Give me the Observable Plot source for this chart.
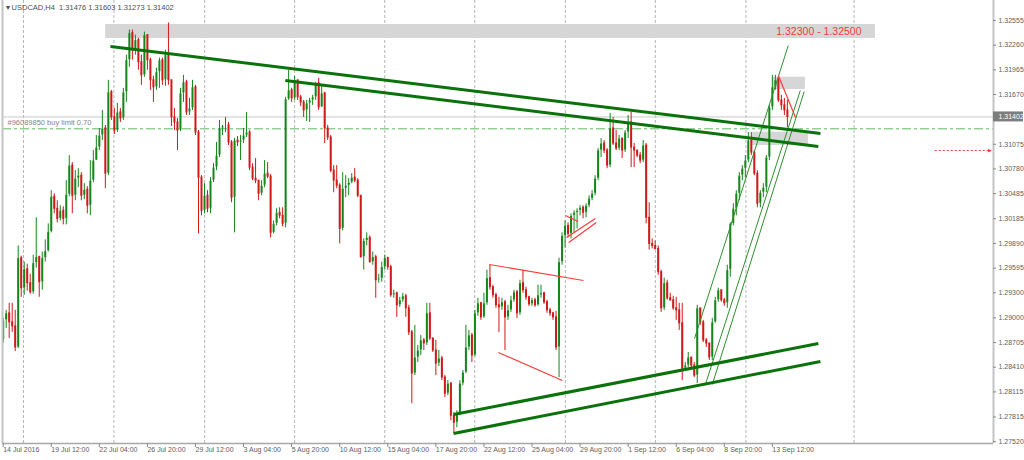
<!DOCTYPE html>
<html><head><meta charset="utf-8">
<script src="https://cdn.jsdelivr.net/npm/d3@7"></script>
<script src="https://cdn.jsdelivr.net/npm/@observablehq/plot@0.6"></script>
<style>
html,body{margin:0;padding:0;background:#fff;}
#chart{width:1024px;height:460px;}
</style></head><body><div id="chart"></div>
<script>
// ---------- DATA (USDCAD H4) ----------
const firstOpen = 1.28730;
const close = [
1.28970,1.29054,1.28946,1.28898,1.28646,1.29714,1.29354,1.29582,1.29414,1.29306,
1.29654,1.29726,1.29426,1.29714,1.29798,1.30028,1.30448,1.30304,1.30184,1.30280,
1.30184,1.30472,1.30820,1.30460,1.30664,1.30700,1.30460,1.30532,1.30340,1.30640,
1.30880,
1.31036,1.31180,1.31264,1.30724,1.31696,1.31396,1.31240,1.31456,1.31384,1.31696,
1.32080,1.32404,1.32200,1.32320,1.32056,1.31900,1.32380,1.32080,1.31840,1.31756,
1.31936,1.32080,1.31840,1.32140,1.31840,1.31396,1.31336,1.31240,1.31684,1.31816,
1.31456,1.31504,1.31756,1.31216,1.30676,
1.30280,1.30460,1.30304,1.30640,1.30796,1.30940,1.31264,1.31288,1.31300,1.31096,
1.30436,1.31120,1.31096,1.31120,1.31180,1.31216,1.30796,1.30664,1.30640,1.30484,
1.30580,1.30724,1.30688,1.30016,1.30124,1.30256,1.30220,1.30124,1.31612,1.31720,
1.31624,1.31840,1.31636,1.31576,1.31480,1.31564,1.31600,1.31636,1.31804,1.31516,
1.31684,1.31264,1.31156,1.30760,1.30640,1.30580,1.30064,1.30544,1.30580,1.30616,
1.30676,1.30640,1.30460,1.29726,1.29920,1.29956,1.29666,1.29726,1.29450,1.29468,
1.29606,1.29714,1.29606,1.29270,1.29294,1.29150,1.29210,
1.29258,1.29114,1.28826,1.28334,1.28526,1.28610,1.28730,1.28694,1.29054,1.28754,
1.28610,1.28454,1.28514,1.28286,1.28094,1.28214,1.27830,1.27746,1.27854,1.28214,
1.28346,1.28646,1.28790,1.28550,1.29054,1.29174,1.29006,1.29174,1.29474,1.29366,
1.29270,1.29150,1.29126,1.29186,1.29006,1.29090,1.29210,1.29306,1.29054,1.29414,
1.29330,1.29246,1.29162,1.29210,1.29150,1.29270,1.29294,1.29186,1.29090,1.29054,
1.29006,1.28646,1.29666,1.29980,1.30100,1.30004,1.30220,1.30256,1.30280,1.30316,
1.30256,1.30340,1.30424,1.30484,1.30664,1.31000,
1.31084,1.31000,1.30820,1.31264,1.31084,1.31024,1.31144,1.31000,1.31216,1.31336,
1.31036,1.31000,1.30940,1.30880,1.31060,1.30196,1.29884,1.29860,1.29824,1.29546,
1.29114,1.29414,1.29234,1.29210,1.29114,1.29090,1.28934,1.28394,1.28430,1.28526,
1.28430,1.28310,1.29114,1.28946,1.28730,1.28694,1.28526,1.28946,1.29210,1.29330,
1.29210,1.29174,1.29570,1.30124,1.30304,1.30484,1.30700,1.30784,1.30880,1.31120,
1.30976,1.30724,1.30364,1.30496,1.30556,1.30916,1.31516,1.31756,1.31840,1.31600,
1.31540,1.31480,1.31402];
const high = [
1.28994,1.29090,1.29174,1.29174,1.29090,1.29860,1.29738,1.29666,1.29642,1.29522,
1.29750,1.30196,1.29738,1.29786,1.29932,1.30124,1.30520,1.30484,1.30400,1.30340,
1.30328,1.30640,1.30940,1.30856,1.30760,1.30784,1.30736,1.30604,1.30568,1.30880,
1.31000,
1.31180,1.31264,1.31480,1.31300,1.31840,1.31720,1.31504,1.31564,1.31504,1.31744,
1.32140,1.32440,1.32440,1.32380,1.32344,1.32140,1.32416,1.32380,1.32104,1.31888,
1.31984,1.32104,1.32104,1.32200,1.32524,1.31840,1.31504,1.31384,1.31744,1.31900,
1.31840,1.31624,1.31840,1.31780,1.31240,
1.30700,1.30604,1.30520,1.30676,1.30844,1.31096,1.31360,1.31300,1.31396,1.31336,
1.31120,1.31144,1.31168,1.31180,1.31264,1.31456,1.31240,1.30844,1.30904,1.30640,
1.30640,1.30880,1.30856,1.30712,1.30160,1.30304,1.30316,1.30316,1.31636,1.31960,
1.31744,1.31888,1.31840,1.31660,1.31600,1.31600,1.31624,1.31660,1.31816,1.31864,
1.31780,1.31696,1.31300,1.31180,1.30820,1.30820,1.30604,1.30736,1.30700,1.30664,
1.30724,1.30784,1.30664,1.30460,1.29944,1.30016,1.29980,1.29786,1.29750,1.29522,
1.29666,1.29750,1.29726,1.29630,1.29330,1.29306,1.29246,
1.29294,1.29282,1.29150,1.28850,1.28910,1.28670,1.28790,1.28754,1.29174,1.29174,
1.28754,1.28730,1.28610,1.28538,1.28310,1.28250,1.28226,1.27866,1.27890,1.28250,
1.28370,1.28910,1.28850,1.28814,1.29090,1.29234,1.29186,1.29294,1.29570,1.29630,
1.29390,1.29294,1.29246,1.29234,1.29210,1.29150,1.29258,1.29330,1.29330,1.29450,
1.29570,1.29366,1.29258,1.29234,1.29234,1.29390,1.29390,1.29306,1.29210,1.29114,
1.29066,1.29078,1.29714,1.30016,1.30160,1.30136,1.30244,1.30280,1.30304,1.30340,
1.30340,1.30364,1.30460,1.30520,1.30700,1.31024,
1.31144,1.31120,1.31024,1.31444,1.31396,1.31240,1.31180,1.31144,1.31240,1.31420,
1.31456,1.31084,1.31000,1.30976,1.31120,1.31084,1.30376,1.29944,1.29920,1.29860,
1.29570,1.29474,1.29450,1.29294,1.29258,1.29246,1.29174,1.29174,1.28466,1.28586,
1.28526,1.28466,1.29150,1.29114,1.28970,1.28754,1.28694,1.28994,1.29246,1.29354,
1.29330,1.29234,1.29630,1.30136,1.30364,1.30520,1.30736,1.30820,1.30940,1.31216,
1.31216,1.31000,1.30760,1.30520,1.30604,1.30940,1.31540,1.31900,1.31900,1.31864,
1.31660,1.31624,1.31603];
const low = [
1.28694,1.28874,1.28754,1.28826,1.28598,1.28634,1.29246,1.29270,1.29318,1.29282,
1.29282,1.29594,1.29246,1.29330,1.29666,1.29786,1.30016,1.30244,1.30136,1.30160,
1.30112,1.30112,1.30448,1.30244,1.30400,1.30556,1.30400,1.30412,1.30244,1.30220,
1.30616,
1.30880,1.31000,1.31120,1.30544,1.30700,1.31360,1.31192,1.31216,1.31336,1.31360,
1.31576,1.31996,1.32080,1.32140,1.31960,1.31780,1.31876,1.31960,1.31720,1.31576,
1.31720,1.31744,1.31780,1.31768,1.31780,1.31288,1.31240,1.31000,1.31228,1.31576,
1.31420,1.31420,1.31480,1.31180,1.30004,
1.30220,1.30244,1.30256,1.30244,1.30616,1.30760,1.30916,1.31180,1.31216,1.31060,
1.30376,1.30016,1.31048,1.30880,1.31084,1.31156,1.30760,1.30640,1.30604,1.30400,
1.30460,1.30556,1.30664,1.29956,1.30004,1.30100,1.30184,1.30088,1.30076,1.31600,
1.31576,1.31600,1.31600,1.31528,1.31396,1.31348,1.31336,1.31540,1.31600,1.31480,
1.31516,1.31084,1.31120,1.30736,1.30496,1.30544,1.29884,1.30040,1.30436,1.30460,
1.30604,1.30616,1.30436,1.29714,1.29570,1.29860,1.29654,1.29630,1.29234,1.29414,
1.29426,1.29570,1.29570,1.29246,1.29234,1.29006,1.29126,
1.29186,1.29006,1.28790,1.27974,1.28310,1.28466,1.28550,1.28610,1.28670,1.28730,
1.28586,1.28310,1.28418,1.28250,1.28046,1.28070,1.27770,1.27614,1.27686,1.27830,
1.28190,1.28334,1.28610,1.28466,1.28538,1.29018,1.28970,1.28994,1.29150,1.29330,
1.29234,1.29114,1.28826,1.29090,1.28610,1.28970,1.29066,1.29186,1.28994,1.29030,
1.29294,1.29210,1.29138,1.29138,1.29126,1.29138,1.29234,1.29162,1.29054,1.29018,
1.28970,1.28610,1.28286,1.29630,1.29836,1.29956,1.29944,1.30016,1.30064,1.30220,
1.30184,1.30196,1.30316,1.30400,1.30460,1.30640,
1.30916,1.30964,1.30784,1.30796,1.31060,1.31000,1.31000,1.30904,1.30976,1.31144,
1.30796,1.30796,1.30916,1.30844,1.30856,1.30124,1.29810,1.29824,1.29810,1.29510,
1.29066,1.29090,1.29210,1.29198,1.29090,1.28970,1.28850,1.28250,1.28370,1.28406,
1.28394,1.28286,1.28214,1.28910,1.28706,1.28646,1.28490,1.28490,1.28934,1.29186,
1.29186,1.29138,1.29114,1.29486,1.30100,1.30220,1.30400,1.30640,1.30676,1.30856,
1.30940,1.30700,1.30316,1.30316,1.30436,1.30496,1.30880,1.31480,1.31720,1.31576,
1.31480,1.31420,1.31273];

// axis ticks
const xTickBars = [0,16,32,48,64,80,96,112,128,144,160,176,192,208,224,240,256];
const xTickLabels = ["14 Jul 2016","19 Jul 12:00","22 Jul 04:00","26 Jul 20:00","29 Jul 12:00",
  "3 Aug 04:00","5 Aug 20:00","10 Aug 12:00","15 Aug 04:00","17 Aug 20:00","22 Aug 12:00",
  "25 Aug 04:00","29 Aug 20:00","1 Sep 12:00","6 Sep 04:00","8 Sep 20:00","13 Sep 12:00"];
const yTicks = [1.27520,1.27815,1.28115,1.28410,1.28705,1.29000,1.29300,1.29595,1.29890,
  1.30185,1.30485,1.30780,1.31075,1.31670,1.31965,1.32260,1.32555];
const gridBars = [6.75,36.85,67.05,97.0,127.0,156.95,187.1,217.05,247.2,283.2];

// header / levels
const symbolTitle = "USDCAD,H4";
const lastBar = {open:1.31476, high:1.31603, low:1.31273, close:1.31402};
const orderLevel = {price:1.31260, label:"#96089850 buy limit 0.70"};
const pendingArrow = [{b1:310.2, b2:328.6, p:1.31001}];

// drawn objects (bar index, price)
const zones = [
  {b1:34.1, b2:290.3, p1:1.32340, p2:1.32507},
  {b1:256.0, b2:267.0, p1:1.31730, p2:1.31877},
  {b1:249.4, b2:268.0, p1:1.31060, p2:1.31220}];
const zoneLabel = [{b:257.3, p:1.32423, text:"1.32300 - 1.32500"}];
const thickLines = [
  {b1:35.7, p1:1.32244, b2:272.0, p2:1.31204},
  {b1:93.9, p1:1.31838, b2:271.3, p2:1.31049},
  {b1:149.9, p1:1.27845, b2:271.3, p2:1.28693},
  {b1:149.9, p1:1.27618, b2:272.0, p2:1.28478}];
const thinGreenLines = [
  {b1:230.1, p1:1.28753, b2:261.3, p2:1.32256},
  {b1:233.7, p1:1.28203, b2:265.3, p2:1.31718},
  {b1:236.0, p1:1.28203, b2:266.6, p2:1.31706}];
const redLines = [
  {b1:161.8, p1:1.29638, b2:193.1, p2:1.29447},
  {b1:164.8, p1:1.28586, b2:186.1, p2:1.28251},
  {b1:187.5, p1:1.29961, b2:197.1, p2:1.30188},
  {b1:188.2, p1:1.29901, b2:197.4, p2:1.30140},
  {b1:187.1, p1:1.30224, b2:191.4, p2:1.30152},
  {b1:258.0, p1:1.31897, b2:263.7, p2:1.31395}];

// ---------- BUILD ----------
const bars = close.map((c,i)=>{
  const o = i===0 ? firstOpen : close[i-1];
  return {i, o, c, h: Math.max(high[i],o,c), l: Math.min(low[i],o,c)};
});
const UP = "#15871a", DN = "#d11919";
const col = d => d.c >= d.o ? UP : DN;

const W = 1024, H = 460, ML = 2, MR = 31, MT = 0, MB = 17;
const X0 = -0.23, X1 = 329.6, Y0 = 1.27498, Y1 = 1.32794;
const barPerPx = (X1 - X0) / (W - ML - MR);
const pricePerPx = (Y1 - Y0) / (H - MT - MB);
const FONT = "'Liberation Sans', Arial, sans-serif";
const fmt = d3.format(".5f");

const chart = Plot.plot({
  width: W, height: H,
  marginLeft: ML, marginRight: MR, marginTop: MT, marginBottom: MB,
  x: {type: "linear", domain: [X0, X1], axis: null},
  y: {type: "linear", domain: [Y0, Y1], axis: null},
  style: {background: "#ffffff", fontFamily: FONT, fontSize: "7px", overflow: "visible"},
  marks: [
    Plot.ruleX(gridBars, {stroke: "#b5b5b5", strokeDasharray: "3,2", strokeWidth: 1}),
    Plot.rect(zones, {x1: "b1", x2: "b2", y1: "p1", y2: "p2", fill: "#d6d6d6"}),
    Plot.text(zoneLabel, {x: "b", y: "p", text: "text", fill: "#f23b3b", fontSize: 10.5, textAnchor: "start"}),
    Plot.ruleY([lastBar.close], {stroke: "#c8c8c8", strokeWidth: 1}),
    Plot.ruleY([orderLevel.price], {stroke: "#5fb85f", strokeDasharray: "9,3,3,3", strokeWidth: 1}),
    Plot.text([orderLevel], {y: "price", frameAnchor: "left", dx: 5, dy: -6, text: "label",
      fill: "#868686", fontSize: 7.5, textAnchor: "start"}),
    Plot.ruleY(pendingArrow, {y: "p", x1: "b1", x2: "b2", stroke: "#ff3b3b", strokeDasharray: "2,2", strokeWidth: 1}),
    Plot.text(pendingArrow, {x: "b2", y: "p", text: () => "\u25B6", fill: "#ff3b3b", fontSize: 5, textAnchor: "middle"}),
    Plot.ruleX(bars, {x: "i", y1: "l", y2: "h", stroke: col, strokeWidth: 1}),
    Plot.ruleX(bars, {x: "i", y1: "o", y2: "c", stroke: col, strokeWidth: 2, insetTop: -0.5, insetBottom: -0.5}),
    Plot.link(thinGreenLines, {x1: "b1", y1: "p1", x2: "b2", y2: "p2", stroke: "#2f8f2f", strokeWidth: 1}),
    Plot.link(redLines, {x1: "b1", y1: "p1", x2: "b2", y2: "p2", stroke: "#ff3a3a", strokeWidth: 1.2}),
    Plot.link(thickLines, {x1: "b1", y1: "p1", x2: "b2", y2: "p2", stroke: "#0a720a", strokeWidth: 3}),
    Plot.ruleX([X0], {stroke: "#c4c4c4", strokeWidth: 2}),
    Plot.ruleX([X1], {stroke: "#c4c4c4", strokeWidth: 2}),
    Plot.ruleY([Y0], {x1: X0, x2: X1, stroke: "#a8a8a8", strokeWidth: 1.5}),
    Plot.ruleX(xTickBars, {y1: Y0, y2: Y0 - 4 * pricePerPx, stroke: "#8a8a8a", strokeWidth: 1}),
    Plot.text(xTickBars, {x: d => d, frameAnchor: "bottom", dy: 8, dx: 0,
      text: (d, i) => xTickLabels[i], fill: "#5e5e5e", fontSize: 7, textAnchor: "start"}),
    Plot.ruleY(yTicks, {x1: X1, x2: X1 + 3 * barPerPx, stroke: "#8a8a8a", strokeWidth: 1}),
    Plot.text(yTicks, {y: d => d, frameAnchor: "right", dx: 5, text: d => fmt(d),
      fill: "#5e5e5e", fontSize: 7, textAnchor: "start"}),
    Plot.rect([lastBar], {x1: X1, x2: X1 + 30 * barPerPx,
      y1: d => d.close - 5 * pricePerPx, y2: d => d.close + 5 * pricePerPx, fill: "#7d7d7d"}),
    Plot.text([lastBar], {y: "close", frameAnchor: "right", dx: 5, text: d => fmt(d.close),
      fill: "#ffffff", fontSize: 7, textAnchor: "start"}),
    Plot.text([lastBar], {frameAnchor: "top-left", dx: 3, dy: 4,
      text: d => "\u25BE " + symbolTitle + "  " + [d.open, d.high, d.low, d.close].map(fmt).join(" "),
      fill: "#4e4e4e", fontSize: 7.5, textAnchor: "start", lineAnchor: "top"})
  ]
});
document.getElementById("chart").appendChild(chart);
</script>
</body></html>
